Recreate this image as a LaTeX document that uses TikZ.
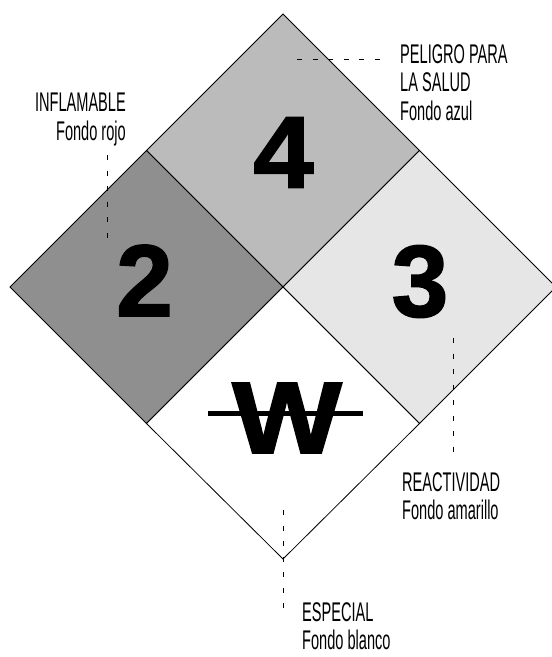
\documentclass[tikz,border=0pt]{standalone}
\usepackage{fontspec}
\setmainfont{Liberation Sans}
\newfontfamily\labelfont[FakeStretch=0.54]{Liberation Sans}
\newfontfamily\numfont[BoldFeatures={FakeBold=1.6}]{Liberation Sans}
\usepackage{tikz}
\usetikzlibrary{positioning}
\definecolor{saludgray}{RGB}{187,187,187}
\definecolor{flamgray}{RGB}{143,143,143}
\definecolor{reacgray}{RGB}{230,230,230}

\begin{document}
\begin{tikzpicture}[x=1pt,y=-1pt,
  num/.style={inner sep=0pt,font=\numfont\fontsize{102}{102}\selectfont\bfseries},
  lbl/.style={inner sep=0pt,font=\labelfont\fontsize{27}{28.5}\selectfont},
  lead/.style={dash pattern=on 5pt off 10.5pt,line width=0.9pt},
  edge/.style={line width=0.8pt}]
\useasboundingbox (0,0) rectangle (552,657);
% diamond corners
\coordinate (T) at (283,14); \coordinate (B) at (283,559);
\coordinate (L) at (10,287); \coordinate (R) at (556,287);
\coordinate (C) at (283,287);
\coordinate (TL) at (146.5,150.5); \coordinate (TR) at (419.5,150.5);
\coordinate (BL) at (146.5,423.5); \coordinate (BR) at (419.5,423.5);
% quadrants
\draw[edge,fill=saludgray](T)--(TR)--(C)--(TL)--cycle;
\draw[edge,fill=flamgray](TL)--(C)--(BL)--(L)--cycle;
\draw[edge,fill=reacgray](TR)--(R)--(BR)--(C)--cycle;
\draw[edge,fill=white](C)--(BR)--(B)--(BL)--cycle;
\node[num] (n4) at (283.5,152.5) {\scalebox{1.06}[1]{4}};
\node[num] (n2) at (144.5,280.5) {2};
\node[num] (n3) at (420,281.5) {3};
\node[num] (nw) at (287,418) {\scalebox{1.14}[1]{W}};
\draw[line width=5pt](208,413)--(363,413);
% labels
\node[lbl,anchor=north west,align=left] (salud) at (400,44) {PELIGRO PARA\\LA SALUD\\Fondo azul};
\node[lbl,anchor=north east,align=right] (flam) at (126,93) {INFLAMABLE\\Fondo rojo};
\node[lbl,anchor=north west,align=left] (reac) at (402,472) {REACTIVIDAD\\Fondo amarillo};
\node[lbl,anchor=north west,align=left] (esp) at (302,602) {ESPECIAL\\Fondo blanco};
% leader lines
\coordinate (salud-a) at (297,59); \coordinate (salud-b) at (380,59);
\coordinate (flam-a) at (107,155); \coordinate (flam-b) at (107,240);
\coordinate (reac-a) at (453,338); \coordinate (reac-b) at (453,457);
\coordinate (esp-a) at (283,510); \coordinate (esp-b) at (283,612);
\draw[lead](salud-a)--(salud-b);
\draw[lead](flam-a)--(flam-b);
\draw[lead](reac-a)--(reac-b);
\draw[lead](esp-a)--(esp-b);
\end{tikzpicture}
\end{document}
